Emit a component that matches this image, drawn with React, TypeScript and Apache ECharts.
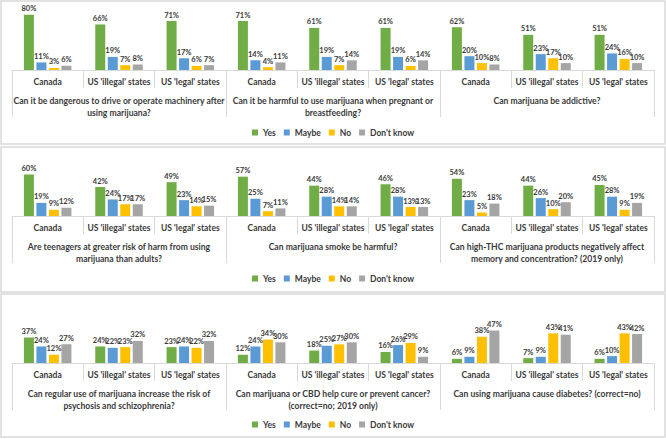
import React, { useEffect, useRef } from "react";
import * as echarts from "echarts";

const categories = ["Canada", "US 'illegal' states", "US 'legal' states"];
const seriesNames = ["Yes", "Maybe", "No", "Don't know"];
const colors = ["#70ad47", "#5b9bd5", "#ffc000", "#a5a5a5"];

const questions = [
  "Can it be dangerous to drive or operate machinery after\nusing marijuana?",
  "Can it be harmful to use marijuana when pregnant or\nbreastfeeding?",
  "Can marijuana be addictive?",
  "Are teenagers at greater risk of harm from using\nmarijuana than adults?",
  "Can marijuana smoke be harmful?",
  "Can high-THC marijuana products negatively affect\nmemory and concentration? (2019 only)",
  "Can regular use of marijuana increase the risk of\npsychosis and schizophrenia?",
  "Can marijuana or CBD help cure or prevent cancer?\n(correct=no; 2019 only)",
  "Can using marijuana cause diabetes? (correct=no)",
];

// values per chart: [Canada, US illegal, US legal]
const yesValues = [
  [80, 66, 71], [71, 61, 61], [62, 51, 51],
  [60, 42, 49], [57, 44, 46], [54, 44, 45],
  [37, 24, 23], [12, 18, 16], [6, 7, 6],
];
const maybeValues = [
  [11, 19, 17], [14, 19, 19], [20, 23, 24],
  [19, 24, 23], [25, 28, 28], [23, 26, 28],
  [24, 22, 24], [24, 25, 26], [9, 9, 10],
];
const noValues = [
  [3, 7, 6], [4, 7, 6], [10, 17, 16],
  [9, 17, 14], [7, 14, 13], [5, 10, 9],
  [12, 23, 22], [34, 27, 29], [38, 43, 43],
];
const dontKnowValues = [
  [6, 8, 7], [11, 14, 14], [8, 10, 10],
  [12, 17, 15], [11, 14, 13], [18, 20, 19],
  [27, 32, 32], [30, 30, 9], [47, 41, 42],
];

const FONT = "Lato, 'Open Sans', sans-serif";
const TEXT = "#3a3a3a";
const LINE = "#d9d9d9";

export default function App() {
  const ref = useRef<HTMLDivElement>(null);
  useEffect(() => {
    if (!ref.current) return;
    const chart = echarts.init(ref.current, undefined, { renderer: "svg" });
    const panelTops = [0, 146, 293];
    const lefts = [12, 226, 440];
    const grids: any[] = [];
    const xAxes: any[] = [];
    const yAxes: any[] = [];
    const series: any[] = [];
    const allValues = [yesValues, maybeValues, noValues, dontKnowValues];
    for (let i = 0; i < 9; i++) {
      const r = Math.floor(i / 3);
      const c = i % 3;
      grids.push({ left: lefts[c], width: 214, top: panelTops[r] + 1, height: 69 });
      xAxes.push({
        type: "category",
        gridIndex: i,
        position: "bottom",
        data: categories,
        axisLine: { show: true, lineStyle: { color: LINE, width: 1 } },
        axisTick: { show: true, length: 18, interval: 0, lineStyle: { color: LINE } },
        axisLabel: { interval: 0, margin: 7, fontSize: 8.5, fontWeight: "bold", color: TEXT, fontFamily: FONT },
      });
      xAxes.push({
        type: "category",
        gridIndex: i,
        position: "bottom",
        offset: 0,
        data: [questions[i]],
        axisLine: { show: false },
        axisTick: { show: true, length: 47, interval: 0, lineStyle: { color: LINE } },
        axisLabel: {
          interval: 0, margin: 25, fontSize: 8.6, lineHeight: 12, fontWeight: "bold",
          color: TEXT, fontFamily: FONT, align: "center",
        },
      });
      yAxes.push({
        type: "value", gridIndex: i, min: 0, max: 100, show: false,
        splitLine: { show: false },
      });
      for (let s = 0; s < 4; s++) {
        series.push({
          type: "bar",
          name: seriesNames[s],
          xAxisIndex: 2 * i,
          yAxisIndex: i,
          data: allValues[s][i],
          barWidth: 10,
          barGap: "25%",
          itemStyle: { color: colors[s] },
          label: {
            show: true, position: "top", distance: 2, formatter: "{c}%",
            fontSize: 7.5, fontWeight: "bold", color: TEXT, fontFamily: FONT,
          },
        });
      }
    }
    const legendTops = [123, 269, 415];
    const legends = legendTops.map((t) => ({
      top: t,
      left: "center",
      data: seriesNames,
      icon: "rect",
      itemWidth: 6,
      itemHeight: 6,
      itemGap: 8,
      textStyle: { fontSize: 8.5, fontWeight: "bold", color: TEXT, fontFamily: FONT },
    }));
    const graphic = panelTops.map((t, r) => ({
      type: "rect",
      z: -10,
      shape: { x: 1, y: t + 1, width: 664, height: r === 1 ? 145 : 143 },
      style: { fill: "none", stroke: LINE, lineWidth: 1.5 },
    }));
    chart.setOption({
      animation: false,
      backgroundColor: "#ffffff",
      grid: grids,
      xAxis: xAxes,
      yAxis: yAxes,
      legend: legends,
      series,
      graphic,
    });
    return () => chart.dispose();
  }, []);
  return (
    <div
      ref={ref}
      style={{ position: "fixed", left: 0, top: 0, width: 666, height: 439 }}
    />
  );
}
